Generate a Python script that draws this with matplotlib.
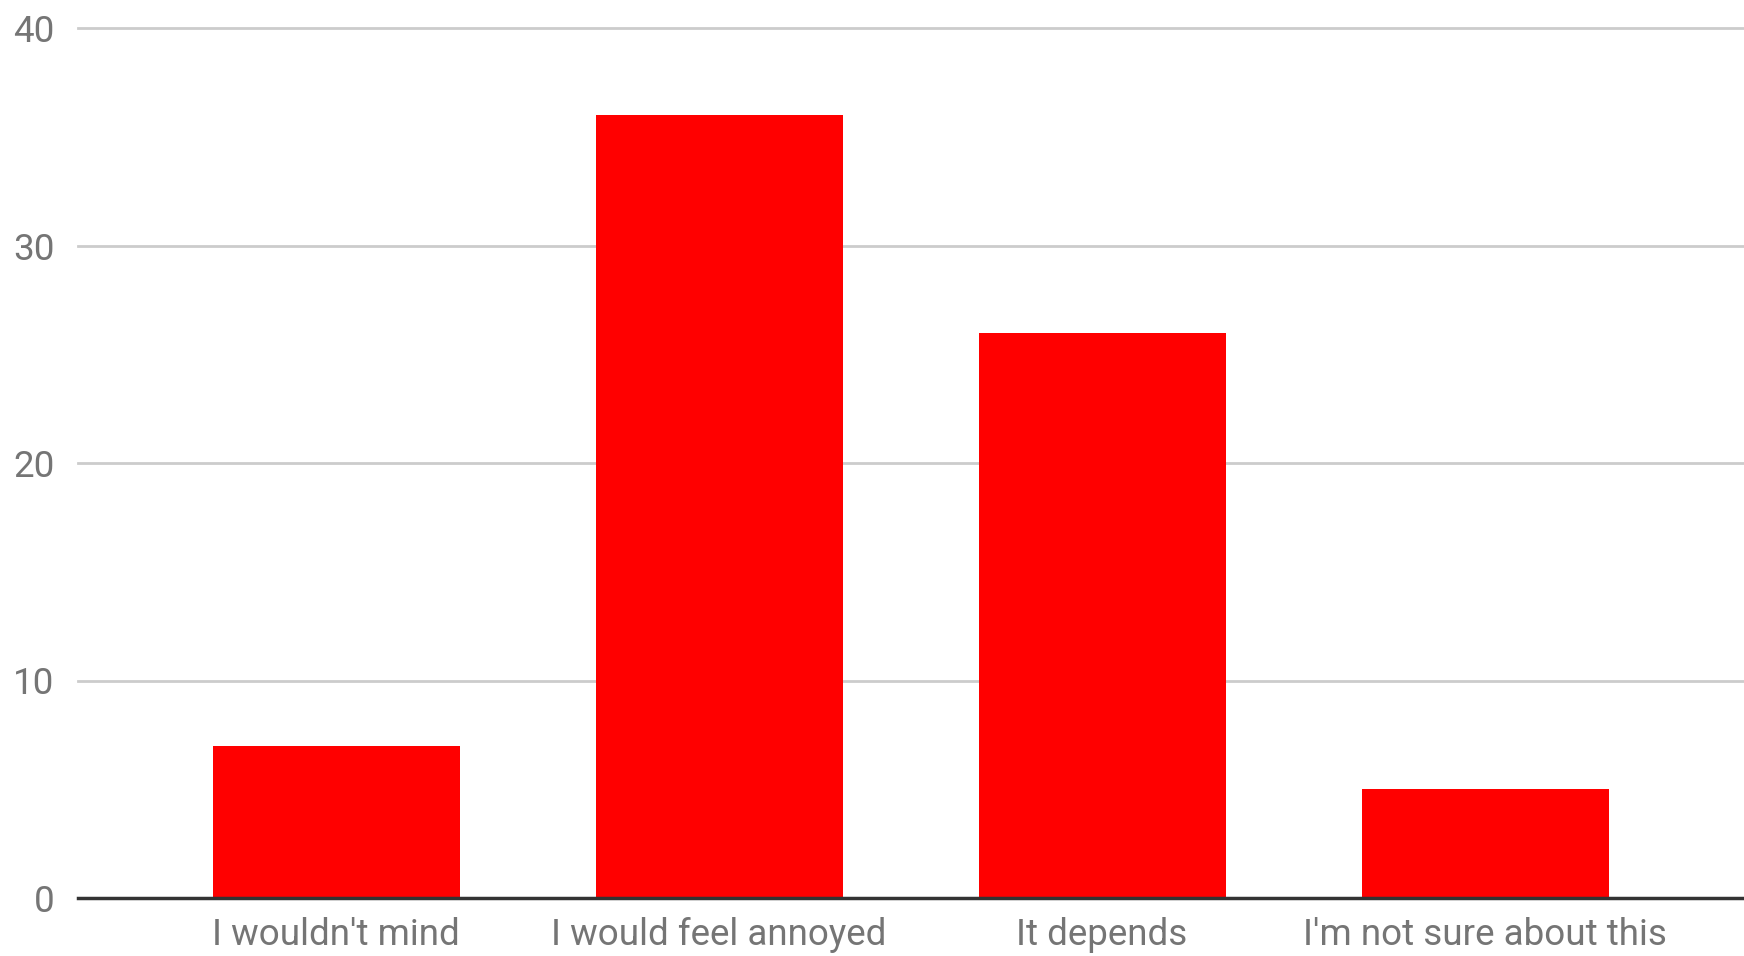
import matplotlib.pyplot as plt
import numpy as np

categories = ["I wouldn't mind", "I would feel annoyed", "It depends", "I'm not sure about this"]
counts = [7, 36, 26, 5]
yticks = [0, 10, 20, 30, 40]

plt.rcParams['font.family'] = ['Roboto', 'DejaVu Sans']

fig = plt.figure(figsize=(17.44, 9.56), dpi=100)
ax = fig.add_axes([78 / 1744, 58 / 956, 1 - 78 / 1744, 870 / 956])

x = np.arange(len(categories))
ax.bar(x, counts, width=0.645, color='#ff0000', zorder=3)

ax.set_xlim(-0.674, 3.676)
ax.set_ylim(0, 40)
ax.set_yticks(yticks)
ax.set_xticks(x)
ax.set_xticklabels(categories)

ax.yaxis.grid(True, color='#cccccc', linewidth=2)
for line in ax.get_ygridlines():
    line.set_clip_on(False)
ax.set_axisbelow(True)

for side in ['top', 'right', 'left']:
    ax.spines[side].set_visible(False)
ax.spines['bottom'].set_color('#333333')
ax.spines['bottom'].set_linewidth(2.5)
ax.spines['bottom'].set_zorder(4)

ax.tick_params(axis='both', length=0, labelcolor='#757575')
ax.tick_params(axis='x', labelsize=26.5, pad=14)
ax.tick_params(axis='y', labelsize=26.5, pad=17)

fig.savefig('out.png', dpi=100)
